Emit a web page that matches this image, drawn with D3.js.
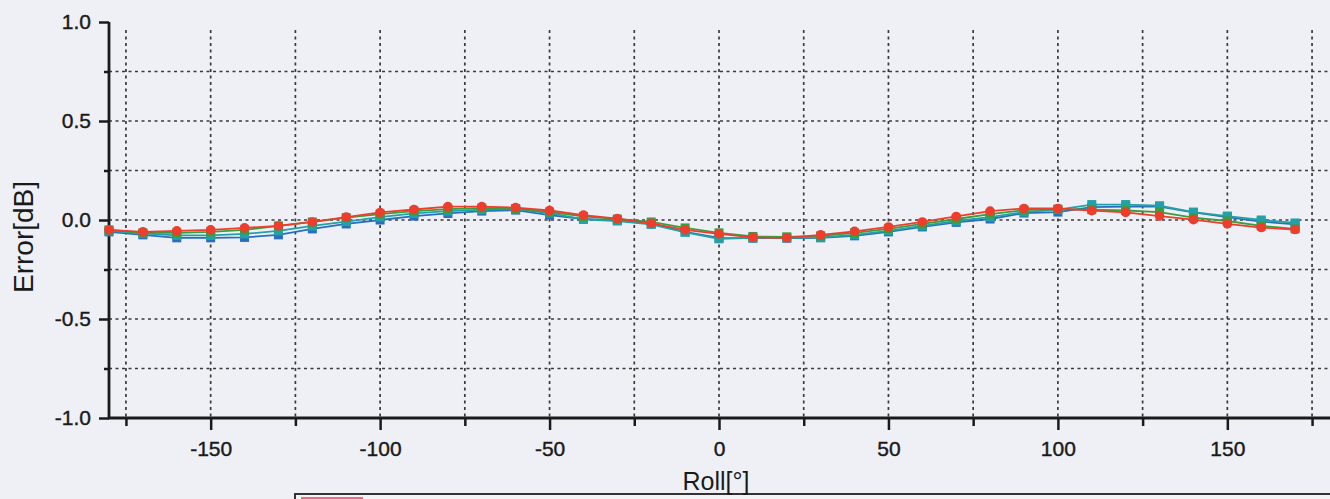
<!DOCTYPE html>
<html>
<head>
<meta charset="utf-8">
<script src="https://cdn.jsdelivr.net/npm/d3@7"></script>
<style>
  html, body { margin: 0; padding: 0; background: #eef0f5; }
  svg { display: block; }
  text { font-family: "Liberation Sans", Arial, sans-serif; fill: #1a1a1a; }
</style>
</head>
<body>
<svg id="chart" width="1330" height="499"></svg>
<script>
// ---- data ----
const roll = [-180,-170,-160,-150,-140,-130,-120,-110,-100,-90,-80,-70,-60,-50,-40,-30,-20,-10,
              0,10,20,30,40,50,60,70,80,90,100,110,120,130,140,150,160,170];
const seriesBlue = [-0.06,-0.075,-0.09,-0.09,-0.088,-0.075,-0.045,-0.02,0.0,0.02,0.033,0.045,0.05,0.025,0.005,-0.002,-0.02,-0.06,
                    -0.09,-0.092,-0.092,-0.09,-0.08,-0.06,-0.035,-0.012,0.005,0.035,0.04,0.065,0.068,0.068,0.038,0.015,-0.008,-0.022];
const seriesTeal = [-0.055,-0.068,-0.078,-0.078,-0.07,-0.055,-0.03,-0.008,0.015,0.033,0.045,0.052,0.055,0.035,0.003,-0.005,-0.022,-0.062,
                    -0.095,-0.09,-0.09,-0.088,-0.075,-0.055,-0.03,-0.005,0.015,0.04,0.052,0.078,0.078,0.072,0.04,0.02,0.0,-0.015];
const seriesGreen = [-0.05,-0.065,-0.065,-0.06,-0.05,-0.03,-0.01,0.012,0.03,0.045,0.055,0.06,0.058,0.04,0.018,0.005,-0.01,-0.04,
                     -0.065,-0.083,-0.085,-0.08,-0.065,-0.045,-0.02,0.005,0.03,0.05,0.055,0.052,0.048,0.04,0.012,-0.005,-0.03,-0.045];
const seriesRed = [-0.05,-0.06,-0.055,-0.05,-0.04,-0.03,-0.01,0.015,0.038,0.053,0.068,0.068,0.063,0.048,0.025,0.007,-0.017,-0.05,
                   -0.07,-0.088,-0.09,-0.075,-0.057,-0.035,-0.01,0.018,0.045,0.058,0.058,0.047,0.038,0.02,0.002,-0.02,-0.038,-0.048];
const xMajorTicks = [-150,-100,-50,0,50,100,150];
const xMinorTicks = [-175,-125,-75,-25,25,75,125,175];
const yMajorTicks = [1.0,0.5,0.0,-0.5,-1.0];
const yMinorTicks = [0.75,0.25,-0.25,-0.75];
const xTitle = "Roll[°]";
const yTitle = "Error[dB]";

const series = [
  {name: "blue",  values: seriesBlue,  color: "#2a6cc0", marker: "square"},
  {name: "teal",  values: seriesTeal,  color: "#22a2a6", marker: "square"},
  {name: "green", values: seriesGreen, color: "#3a9d3e", marker: "square"},
  {name: "red",   values: seriesRed,   color: "#ee3d2d", marker: "circle"}
];

// ---- layout ----
const svg = d3.select("#chart");
const pLeft = 109, pRight = 1329, pTop = 22, pBottom = 418;
const x = d3.scaleLinear().domain([-180, 180]).range([pLeft, pRight]);
const y = d3.scaleLinear().domain([-1, 1]).range([pBottom, pTop]);
const FONT = "Liberation Sans, Arial, sans-serif";

// legend box (clipped at bottom edge)
svg.append("rect").attr("x", 295).attr("y", 494).attr("width", 1100).attr("height", 40)
  .attr("fill", "#f4f4f6").attr("stroke", "#333").attr("stroke-width", 2);
svg.append("rect").attr("x", 301).attr("y", 497).attr("width", 62).attr("height", 20)
  .attr("fill", "#ee6a80");

// grid
const grid = svg.append("g").attr("stroke", "#3a3a3a").attr("stroke-width", 1.7)
  .attr("stroke-dasharray", "3,3.5");
const vGrid = xMajorTicks.concat(xMinorTicks);
grid.selectAll("line.v").data(vGrid).join("line").attr("class", "v")
  .attr("x1", d => x(d)).attr("x2", d => x(d))
  .attr("y1", 30).attr("y2", pBottom);
grid.selectAll("line.h").data([0.75,0.5,0.25,0,-0.25,-0.5,-0.75]).join("line").attr("class", "h")
  .attr("x1", pLeft).attr("x2", 1330)
  .attr("y1", d => y(d)).attr("y2", d => y(d));

// axes
const fmtX = d => d < 0 ? "-" + Math.abs(d) : String(d);
const xAxis = d3.axisBottom(x).tickValues(xMajorTicks).tickSize(12).tickPadding(11).tickFormat(fmtX);
const gx = svg.append("g").attr("transform", `translate(0,${pBottom})`).call(xAxis);
gx.select(".domain").remove();
gx.selectAll(".tick line").attr("stroke", "#1a1a1a").attr("stroke-width", 2.5);
gx.selectAll(".tick text").attr("font-size", 21).attr("fill", "#1a1a1a")
  .attr("stroke", "#1a1a1a").attr("stroke-width", 0.4).attr("font-family", FONT);
const xAxisMinor = d3.axisBottom(x).tickValues(xMinorTicks).tickSize(8).tickFormat("");
const gxm = svg.append("g").attr("transform", `translate(0,${pBottom})`).call(xAxisMinor);
gxm.select(".domain").remove();
gxm.selectAll(".tick line").attr("stroke", "#1a1a1a").attr("stroke-width", 2.5);

const fmtY = d => d < 0 ? "-" + Math.abs(d).toFixed(1) : d.toFixed(1);
const yAxis = d3.axisLeft(y).tickValues(yMajorTicks).tickSize(10).tickPadding(8).tickFormat(fmtY);
const gy = svg.append("g").attr("transform", `translate(${pLeft},0)`).call(yAxis);
gy.select(".domain").remove();
gy.selectAll(".tick line").attr("stroke", "#1a1a1a").attr("stroke-width", 2.5);
gy.selectAll(".tick text").attr("font-size", 21).attr("fill", "#1a1a1a")
  .attr("stroke", "#1a1a1a").attr("stroke-width", 0.4).attr("font-family", FONT);
const yAxisMinor = d3.axisLeft(y).tickValues(yMinorTicks).tickSize(5).tickFormat("");
const gym = svg.append("g").attr("transform", `translate(${pLeft},0)`).call(yAxisMinor);
gym.select(".domain").remove();
gym.selectAll(".tick line").attr("stroke", "#1a1a1a").attr("stroke-width", 2.5);

// axis lines
svg.append("line").attr("x1", pLeft).attr("x2", pLeft).attr("y1", pTop).attr("y2", pBottom + 1)
  .attr("stroke", "#1a1a1a").attr("stroke-width", 2.8);
svg.append("line").attr("x1", pLeft - 1).attr("x2", 1330).attr("y1", pBottom).attr("y2", pBottom)
  .attr("stroke", "#1a1a1a").attr("stroke-width", 2.8);

// series
const lineGen = d3.line().x((d, i) => x(roll[i])).y(d => y(d));
series.forEach(s => {
  const g = svg.append("g");
  g.append("path").datum(s.values).attr("d", lineGen)
    .attr("fill", "none").attr("stroke", s.color).attr("stroke-width", 1.8);
  if (s.marker === "circle") {
    g.selectAll("circle").data(s.values).join("circle")
      .attr("cx", (d, i) => x(roll[i])).attr("cy", d => y(d)).attr("r", 4.8)
      .attr("fill", s.color);
  } else {
    g.selectAll("rect").data(s.values).join("rect")
      .attr("x", (d, i) => x(roll[i]) - 4.5).attr("y", d => y(d) - 4.5)
      .attr("width", 9).attr("height", 9).attr("fill", s.color);
  }
});

// titles
svg.append("text").attr("x", 716).attr("y", 490).attr("text-anchor", "middle")
  .attr("font-size", 25).attr("font-family", FONT).text(xTitle);
svg.append("text").attr("transform", "translate(33,237) rotate(-90)")
  .attr("text-anchor", "middle").attr("font-size", 28).attr("font-family", FONT).text(yTitle);
</script>
</body>
</html>
